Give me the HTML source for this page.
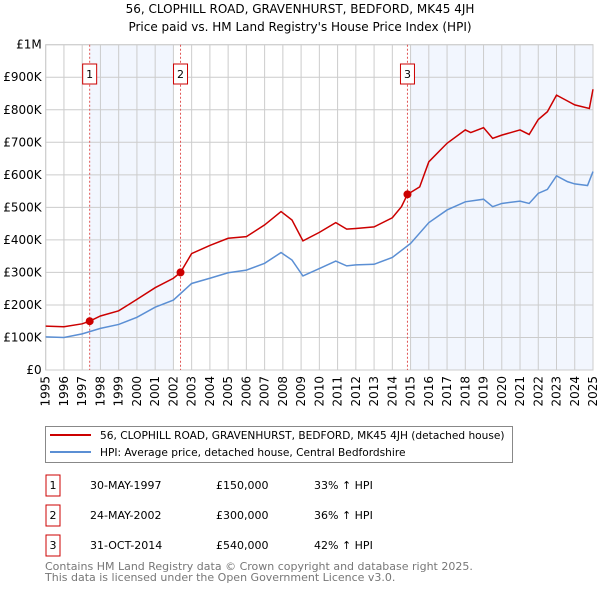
<!DOCTYPE html>
<html><head><meta charset="utf-8"><style>
body{margin:0;background:#fff;font-family:"Liberation Sans","DejaVu Sans",sans-serif;}
svg text{font-family:"DejaVu Sans","Liberation Sans",sans-serif;}
</style></head><body>
<svg id="c" width="600" height="590" xmlns="http://www.w3.org/2000/svg">
<text x="300" y="13" text-anchor="middle" font-size="12">56, CLOPHILL ROAD, GRAVENHURST, BEDFORD, MK45 4JH</text>
<text x="300" y="31" text-anchor="middle" font-size="12">Price paid vs. HM Land Registry's House Price Index (HPI)</text>
<g id="plot"></g>
<rect x="45.5" y="426.5" width="467" height="36" fill="#fff" stroke="#888"/>
<line x1="50" y1="435" x2="91" y2="435" stroke="#cc0000" stroke-width="2"/>
<text x="100" y="439" font-size="10.6">56, CLOPHILL ROAD, GRAVENHURST, BEDFORD, MK45 4JH (detached house)</text>
<line x1="50" y1="452" x2="91" y2="452" stroke="#5b8fd4" stroke-width="2"/>
<text x="100" y="456" font-size="10.6">HPI: Average price, detached house, Central Bedfordshire</text>
<g font-size="11">
<rect x="46" y="475" width="14" height="21" fill="#fff" stroke="#cc0000"/><text x="53" y="489" text-anchor="middle">1</text>
<text x="90" y="489">30-MAY-1997</text><text x="216" y="489">£150,000</text><text x="314" y="489">33% ↑ HPI</text>
<rect x="46" y="505" width="14" height="21" fill="#fff" stroke="#cc0000"/><text x="53" y="519" text-anchor="middle">2</text>
<text x="90" y="519">24-MAY-2002</text><text x="216" y="519">£300,000</text><text x="314" y="519">36% ↑ HPI</text>
<rect x="46" y="535" width="14" height="21" fill="#fff" stroke="#cc0000"/><text x="53" y="549" text-anchor="middle">3</text>
<text x="90" y="549">31-OCT-2014</text><text x="216" y="549">£540,000</text><text x="314" y="549">42% ↑ HPI</text>
</g>
<text x="45" y="570" font-size="11" fill="#777">Contains HM Land Registry data © Crown copyright and database right 2025.</text>
<text x="45" y="581" font-size="11" fill="#777">This data is licensed under the Open Government Licence v3.0.</text>
</svg>
<script>
const yearTicks=[1995,1996,1997,1998,1999,2000,2001,2002,2003,2004,2005,2006,2007,2008,2009,2010,2011,2012,2013,2014,2015,2016,2017,2018,2019,2020,2021,2022,2023,2024,2025];
const valueTicks=[0,100,200,300,400,500,600,700,800,900,1000];
const valueTickLabels=["£0","£100K","£200K","£300K","£400K","£500K","£600K","£700K","£800K","£900K","£1M"];
const redYears=[1995,1996,1997,1997.41,1998,1999,2000,2001,2002,2002.39,2003,2004,2005,2006,2007,2007.9,2008.5,2009.1,2010,2010.9,2011.5,2012,2013,2014,2014.5,2014.83,2015.5,2016,2017,2018,2018.3,2019,2019.5,2020,2021,2021.5,2022,2022.5,2023,2023.5,2024,2024.8,2025];
const redValues=[135,133,142,150,166,182,217,253,282,300,358,383,405,410,446,487,461,397,423,453,433,435,440,468,502,540,563,640,697,738,730,745,712,722,738,724,770,794,845,830,815,804,863];
const blueYears=[1995,1996,1997,1998,1999,2000,2001,2002,2003,2004,2005,2006,2007,2007.9,2008.5,2009.1,2010,2010.9,2011.5,2012,2013,2014,2015,2016,2017,2018,2019,2019.5,2020,2021,2021.5,2022,2022.5,2023,2023.6,2024,2024.7,2025];
const blueValues=[102,100,111,128,140,162,193,215,266,282,299,307,328,361,338,289,312,335,320,323,325,346,389,453,492,517,525,502,512,519,512,543,555,597,579,572,567,610];
const saleYears=[1997.41,2002.39,2014.83];
const saleValues=[150,300,540];
const saleLabels=["1","2","3"];
const NS="http://www.w3.org/2000/svg";
const X0=45.7,X1=593,Y0=370,Y1=44.7;
const xs=y=>X0+(y-1995)/30*(X1-X0);
const ys=v=>Y0-v/1000*(Y0-Y1);
const g=document.getElementById('plot');
function mk(t,a){const e=document.createElementNS(NS,t);for(const k in a)e.setAttribute(k,a[k]);g.appendChild(e);return e;}
let e;
e=mk('rect',{x:xs(saleYears[0]),y:Y1,width:xs(2002)-xs(saleYears[0]),height:Y0-Y1,fill:'#f2f6fe'});


e=mk('rect',{x:xs(2015),y:Y1,width:X1-xs(2015),height:Y0-Y1,fill:'#f2f6fe'});


yearTicks.forEach(t=>{
 e=mk('line',{x1:xs(t),x2:xs(t),y1:Y1,y2:Y0,stroke:'#ccc'});
 
 
 e=mk('text',{x:0,y:0,'font-size':12,'text-anchor':'end',transform:`translate(${xs(t)+4},${Y0+6}) rotate(-90)`});
 e.textContent=t;
 
 
});
valueTicks.forEach((v,i)=>{
 e=mk('line',{x1:X0,x2:X1,y1:ys(v),y2:ys(v),stroke:'#ccc'});
 
 
 e=mk('text',{x:X0-4,y:ys(v)+4,'font-size':12,'text-anchor':'end'});
 e.textContent=valueTickLabels[i];
 
 
});
e=mk('rect',{x:X0,y:Y1,width:X1-X0,height:Y0-Y1,fill:'none',stroke:'#ccc'});


saleYears.forEach((s,i)=>{
 e=mk('line',{x1:xs(s),x2:xs(s),y1:Y1,y2:Y0,stroke:'#e05555','stroke-dasharray':'2,2','stroke-width':1});
 
 
 e=mk('rect',{x:xs(s)-7,y:64,width:14,height:20,fill:'#fff',stroke:'#cc0000'});
 
 
 e=mk('text',{x:xs(s),y:78,'font-size':11,'text-anchor':'middle'});
 e.textContent=saleLabels[i];
 
 
});
e=mk('polyline',{points:blueYears.map((y,i)=>xs(y)+','+ys(blueValues[i])).join(' '),fill:'none',stroke:'#5b8fd4','stroke-width':1.5});


e=mk('polyline',{points:redYears.map((y,i)=>xs(y)+','+ys(redValues[i])).join(' '),fill:'none',stroke:'#cc0000','stroke-width':1.5});


saleYears.forEach((s,i)=>{
 e=mk('circle',{cx:xs(s),cy:ys(saleValues[i]),r:4,fill:'#cc0000'});
 
 
});
</script>
</body></html>
